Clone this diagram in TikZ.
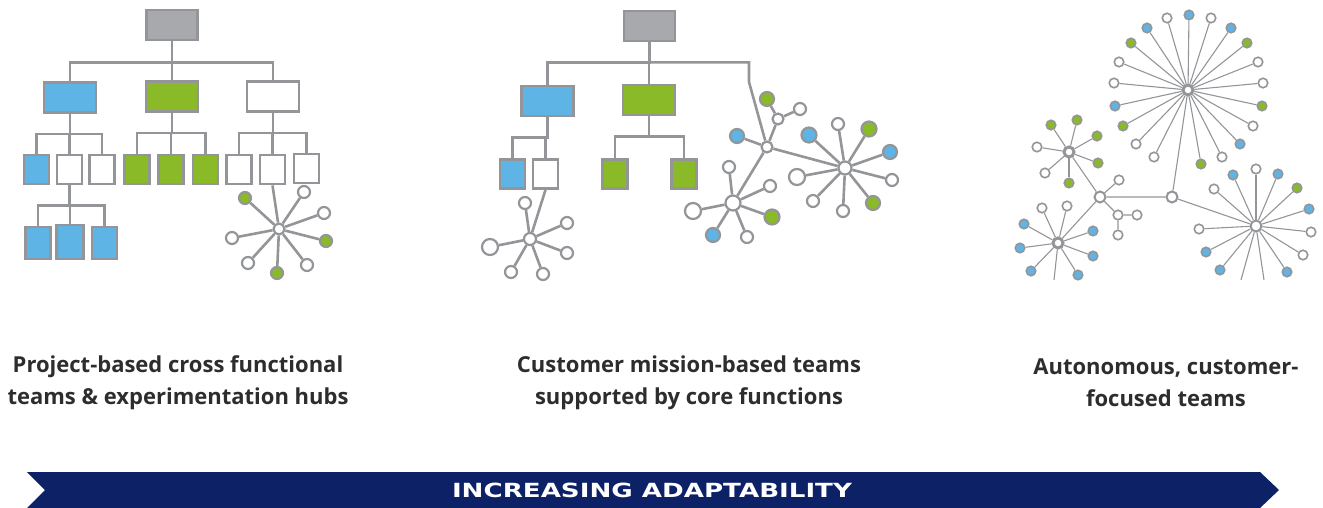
\documentclass[tikz,border=0pt]{standalone}
\usepackage{fontspec}
\setmainfont{Open Sans}
\newfontfamily\bannerfont{DejaVu Sans}
\definecolor{lineG}{RGB}{147,149,152}
\definecolor{boxG}{RGB}{167,169,172}
\definecolor{teamB}{RGB}{93,180,229}
\definecolor{teamG}{RGB}{138,186,39}
\definecolor{navyB}{RGB}{12,33,102}
\definecolor{textG}{RGB}{45,45,45}

\tikzset{
  link/.style={draw=lineG, line width=2.6pt},
  fine link/.style={draw=lineG, line width=1.1pt},
  unit/.style={draw=lineG, line width=2.8pt, inner sep=0pt, fill=white},
  topbox/.style={unit, fill=boxG, minimum width=51pt, minimum height=30pt},
  bigbox/.style={unit, minimum width=52pt, minimum height=30pt},
  smallbox/.style={unit, minimum width=25pt, minimum height=29pt},
  tallbox/.style={unit, minimum width=25pt, minimum height=32pt},
  sat/.style={circle, draw=lineG, line width=2.2pt, inner sep=0pt, fill=white, minimum size=12pt},
  dot/.style={circle, draw=lineG, line width=1.6pt, inner sep=0pt, fill=white, minimum size=9.5pt},
  ring/.style={circle, draw=lineG, line width=3pt, inner sep=0pt, fill=white, minimum size=10pt},
  caption/.style={align=center, text=textG, font=\fontsize{22}{32}\selectfont\bfseries},
}

\begin{document}
\begin{tikzpicture}[x=1pt,y=-1pt]
\useasboundingbox (0,0) rectangle (1323,508);

% ---- project-based hierarchy
\node[topbox] (p1top) at (172,25) {};
\node[bigbox,fill=teamB] (p1b) at (70,97.5) {};
\node[bigbox,fill=teamG] (p1g) at (172,96.5) {};
\node[bigbox] (p1w) at (273,96.5) {};
\foreach \n in {p1b,p1g,p1w} \draw[link] (p1top.south) -- ++(0,21) -| (\n.north);
\node[smallbox,fill=teamB] (p1b1) at (36.5,169.5) {};
\node[smallbox] (p1b2) at (69.5,169.5) {};
\node[smallbox] (p1b3) at (102,169.5) {};
\node[smallbox,fill=teamG] (p1g1) at (137,169.5) {};
\node[smallbox,fill=teamG] (p1g2) at (171,169.5) {};
\node[smallbox,fill=teamG] (p1g3) at (205.5,169.5) {};
\node[smallbox] (p1w1) at (239,169.5) {};
\node[smallbox] (p1w2) at (272.5,169.5) {};
\node[smallbox] (p1w3) at (306.5,168.5) {};
\foreach \p in {b,g,w}
  \foreach \i in {1,2,3}
    \draw[link] (p1\p.south) -- ++(0,20) -| (p1\p\i.north);
\node[tallbox,fill=teamB] (p1x1) at (38,243) {};
\node[tallbox,fill=teamB,minimum width=27pt,minimum height=34pt] (p1x2) at (70,242) {};
\node[tallbox,fill=teamB] (p1x3) at (104.5,243) {};
\foreach \i in {1,2,3} \draw[link] (p1b2.south) -- ++(0,20) -| (p1x\i.north);
% experimentation hub
\node[sat,minimum size=11pt] (p1hub) at (279,229) {};
\draw[link] (p1hub) -- (p1w2.south);
\foreach \x/\y/\c [count=\i] in {245/198/teamG,304/192/white,324/213/white,326/241/teamG,
    307/265/white,277/273/teamG,248/263/white,232/238/white} {
  \node[sat,fill=\c] (p1s\i) at (\x,\y) {};
  \draw[link] (p1hub) -- (p1s\i);
}

% ---- mission-based teams
\node[topbox] (p2top) at (649.5,26) {};
\node[bigbox,fill=teamB] (p2b) at (547.5,101) {};
\node[bigbox,fill=teamG] (p2g) at (649,100) {};
\coordinate (p2k) at (749,82);
\foreach \n in {p2b,p2g} \draw[link] (p2top.south) -- ++(0,20) -| (\n.north);
\node[smallbox,fill=teamB] (p2b1) at (512.5,174) {};
\node[smallbox] (p2b2) at (545.5,174) {};
\node[smallbox,fill=teamG] (p2g1) at (615,174) {};
\node[smallbox,fill=teamG] (p2g2) at (684,174) {};
\foreach \p in {b,g}
  \foreach \i in {1,2}
    \draw[link] (p2\p.south) -- ++(0,20) -| (p2\p\i.north);
% star under the white team
\node[sat,minimum size=12pt] (p2hub) at (530,239) {};
\draw[link] (p2hub) -- (p2b2.south);
\foreach \x/\y/\d [count=\i] in {525/203/12,567/223/12,567/253/12,543/274/12,511/272/12,490/247/16} {
  \node[sat,minimum size=\d pt] (p2s\i) at (\x,\y) {};
  \draw[link] (p2hub) -- (p2s\i);
}
% customer network
\node[sat,minimum size=11pt] (p2hubA) at (767,147) {};
\draw[link] (p2top.south) -- ++(0,20) -| (p2k) -- (p2hubA);
\node[sat,minimum size=11pt] (p2a1) at (778,119) {};
\node[sat,fill=teamG,minimum size=14pt] (p2a2) at (767,99) {};
\node[sat] (p2a3) at (800,109) {};
\node[sat,fill=teamB,minimum size=14pt] (p2a4) at (737,136) {};
\draw[link] (p2hubA) -- (p2a1) -- (p2a2) (p2a1) -- (p2a3) (p2hubA) -- (p2a4);
\node[sat,minimum size=13pt] (p2hubB) at (845,168) {};
\node[sat,minimum size=15pt] (p2hubC) at (733,203) {};
\draw[link] (p2hubA) -- (p2hubB) (p2hubA) -- (p2hubC);
\foreach \x/\y/\c/\d [count=\i] in {838/124/white/12,869/129/teamG/15,890/152/teamB/14,892/180/white/12,
    873/203/teamG/14,843/211/white/12,813/201/white/12,797/177/white/16,809/135/teamB/15} {
  \node[sat,fill=\c,minimum size=\d pt] (p2bs\i) at (\x,\y) {};
  \draw[link] (p2hubB) -- (p2bs\i);
}
\foreach \x/\y/\c/\d [count=\i] in {729/167/white/12,770/186/white/12,772/217/teamG/15,
    747/237/white/12,713/235/teamB/14,693/211/white/16} {
  \node[sat,fill=\c,minimum size=\d pt] (p2cs\i) at (\x,\y) {};
  \draw[link] (p2hubC) -- (p2cs\i);
}

% ---- autonomous teams
\node[ring] (p3d) at (1188,90) {};
\node[dot,line width=2pt,minimum size=11pt] (p3e) at (1172,197) {};
\node[dot,line width=2pt,minimum size=11pt] (p3f) at (1100,197) {};
\node[dot,line width=2pt,minimum size=11pt] (p3g) at (1256,226) {};
\node[ring] (p3h) at (1069,152) {};
\node[ring] (p3i) at (1058,243) {};
\draw[fine link] (p3d) -- (p3e) -- (p3f) (p3e) -- (p3g) (p3f) -- (p3h) (p3f) -- (p3i);
\node[dot] (p3f1) at (1119,180) {};
\node[dot] (p3f2) at (1118,215) {};
\node[dot] (p3f3) at (1137,215) {};
\node[dot] (p3f4) at (1118,235) {};
\draw[fine link] (p3f) -- (p3f1) (p3f) -- (p3f2) -- (p3f3) (p3f2) -- (p3f4);
\foreach \x/\y/\c [count=\i] in {1167/18/white,1189/15/teamB,1211/18/white,1231/28/teamB,1247/43/teamG,
    1258/62/white,1263/83/white,1262/106/teamG,1253/126/white,1240/144/teamB,1222/157/white,
    1201/164/teamG,1154/157/white,1136/144/white,1123/126/teamG,1115/106/teamB,1114/83/white,
    1119/62/white,1131/43/teamG,1147/28/teamB} {
  \node[dot,fill=\c] (p3ds\i) at (\x,\y) {};
  \draw[fine link] (p3d) -- (p3ds\i);
}
\foreach \x/\y/\c [count=\i] in {1051/125/teamG,1077/120/teamG,1097/136/teamG,1098/163/teamG,
    1069/183/teamG,1045/173/white,1037/147/white} {
  \node[dot,fill=\c] (p3hs\i) at (\x,\y) {};
  \draw[fine link] (p3h) -- (p3hs\i);
}
\foreach \x/\y/\c [count=\i] in {1042/208/white,1067/206/white,1093/231/teamB,1093/256/teamB,
    1078/275/teamB,1031/271/teamB,1020/248/teamB,1024/224/teamB} {
  \node[dot,fill=\c] (p3is\i) at (\x,\y) {};
  \draw[fine link] (p3i) -- (p3is\i);
}
\coordinate (p3iend) at (1054,280);
\draw[fine link] (p3i) -- (p3iend);
\foreach \x/\y/\c [count=\i] in {1214/189/white,1233/175/teamB,1256/169/white,1278/174/teamB,
    1297/188/teamG,1309/209/teamB,1311/232/white,1303/255/white,1287/272/teamB,1220/270/teamB,
    1206/252/teamB,1199/229/white} {
  \node[dot,fill=\c] (p3gs\i) at (\x,\y) {};
  \draw[fine link] (p3g) -- (p3gs\i);
}
\coordinate (p3gend1) at (1241,280);
\coordinate (p3gend2) at (1264,280);
\draw[fine link] (p3g) -- (p3gend1) (p3g) -- (p3gend2);

% ---- captions
\node[caption] (cap1) at (178,383) {Project-based cross functional\\teams \& experimentation hubs};
\node[caption] (cap2) at (689,383) {Customer mission-based teams\\supported by core functions};
\node[caption] (cap3) at (1166,383) {Autonomous, customer-\\focused teams};

% ---- banner
\fill[navyB] (27,472) -- (1260,472) -- (1279,490) -- (1260,508) -- (27,508) -- (45,490) -- cycle;
\node[text=white, font=\bannerfont\bfseries\fontsize{19.5}{19.5}\selectfont] (banner) at (652,490)
  {\scalebox{1.34}[1]{INCREASING ADAPTABILITY}};
\end{tikzpicture}
\end{document}
